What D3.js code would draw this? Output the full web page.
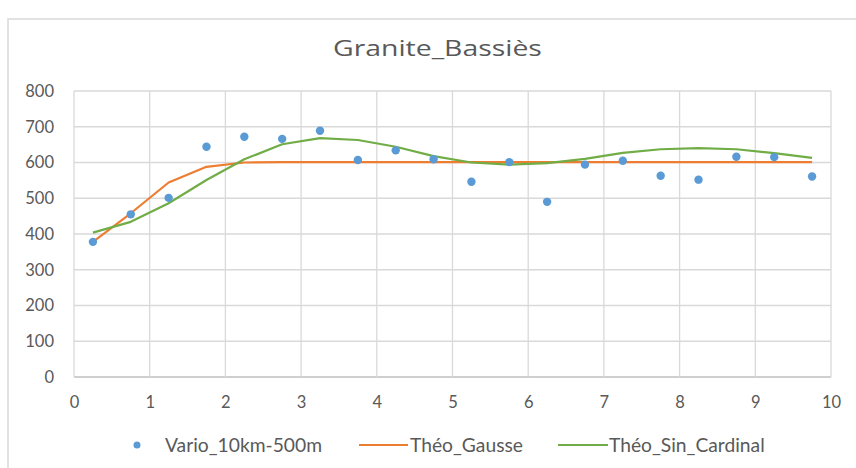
<!DOCTYPE html>
<html><head><meta charset="utf-8">
<script src="https://cdn.jsdelivr.net/npm/d3@7"></script>
<style>body{margin:0;background:#fff;}svg{display:block;}</style>
</head><body><svg id="c" width="856" height="468"></svg>
<script>
const distances = [0.25,0.75,1.25,1.75,2.25,2.75,3.25,3.75,4.25,4.75,5.25,5.75,6.25,6.75,7.25,7.75,8.25,8.75,9.25,9.75];
const vario = [378,455,501,644,672,666,689,607,634,609,546,601,490,594,605,563,552,616,615,561];
const gauss = [378,458,544,588,600,601,601,601,601,601,601,601,601,601,601,601,601,601,601,601];
const sinCard = [404,434,486,551,609,651,668,663,644,618,600,594,598,610,627,637,640,637,626,613];
const xTicks = [0,1,2,3,4,5,6,7,8,9,10];
const yTicks = [0,100,200,300,400,500,600,700,800];
const title = "Granite_Bassiès";
const seriesNames = ["Vario_10km-500m","Théo_Gausse","Théo_Sin_Cardinal"];
const colors = ["#5B9BD5","#ED7D31","#70AD47"];

const svg = d3.select("#c");
const font = "Lato, 'Open Sans', sans-serif";
const L = 74, R = 831, T = 91, B = 377;
const x = d3.scaleLinear().domain([0,10]).range([L,R]);
const y = d3.scaleLinear().domain([0,800]).range([B,T]);

svg.append("rect").attr("x",8).attr("y",19).attr("width",900).attr("height",500)
  .attr("fill","#fff").attr("stroke","#d9d9d9").attr("stroke-width",1.5);

const tt = svg.append("text").attr("x",0).attr("y",0).attr("text-anchor","start")
  .attr("font-family","'Open Sans', Lato, sans-serif").attr("font-size",22).attr("fill","#595959").text(title);
const tw = tt.node().getComputedTextLength();
tt.attr("transform",`translate(333,56) scale(${209/tw},1)`);

// grid
const g = svg.append("g");
g.selectAll(".hg").data(yTicks).join("line")
  .attr("x1",L).attr("x2",R).attr("y1",d=>y(d)).attr("y2",d=>y(d))
  .attr("stroke",d=>d===0?"#bfbfbf":"#d9d9d9").attr("stroke-width",1.3);
g.selectAll(".vg").data(xTicks).join("line")
  .attr("x1",d=>x(d)).attr("x2",d=>x(d)).attr("y1",T).attr("y2",B)
  .attr("stroke","#d9d9d9").attr("stroke-width",1.3);

const yAxis = svg.append("g").attr("transform",`translate(${L},0)`)
  .call(d3.axisLeft(y).tickValues(yTicks).tickSize(0).tickPadding(20));
const xAxis = svg.append("g").attr("transform",`translate(0,${B})`)
  .call(d3.axisBottom(x).tickValues(xTicks).tickSize(0).tickPadding(19));
[yAxis,xAxis].forEach(a=>{
  a.select(".domain").remove();
  a.selectAll("text").attr("font-family",font).attr("font-size",16.5).attr("fill","#595959");
});

const line = d3.line().x((d,i)=>x(distances[i])).y(d=>y(d));
svg.append("path").datum(gauss).attr("d",line).attr("fill","none")
  .attr("stroke",colors[1]).attr("stroke-width",2.2).attr("stroke-linejoin","round");
svg.append("path").datum(sinCard).attr("d",line).attr("fill","none")
  .attr("stroke",colors[2]).attr("stroke-width",2.2).attr("stroke-linejoin","round");
svg.selectAll(".pt").data(vario).join("circle")
  .attr("cx",(d,i)=>x(distances[i])).attr("cy",d=>y(d)).attr("r",4.2).attr("fill",colors[0]);

// legend
const ly = 445;
const lg = svg.append("g").attr("font-family",font).attr("font-size",18.5).attr("fill","#595959");
lg.append("circle").attr("cx",137).attr("cy",ly).attr("r",3.5).attr("fill",colors[0]);
const t0 = lg.append("text").attr("x",165).attr("y",ly+7).text(seriesNames[0]);
lg.append("line").attr("x1",359).attr("x2",408).attr("y1",ly).attr("y2",ly).attr("stroke",colors[1]).attr("stroke-width",2.2);
lg.append("text").attr("x",410).attr("y",ly+7).text(seriesNames[1]);
lg.append("line").attr("x1",558).attr("x2",608).attr("y1",ly).attr("y2",ly).attr("stroke",colors[2]).attr("stroke-width",2.2);
lg.append("text").attr("x",609).attr("y",ly+7).text(seriesNames[2]);
const w = t0.node().getComputedTextLength();
lg.attr("font-size", 18.5 * 157 / w);
</script></body></html>
